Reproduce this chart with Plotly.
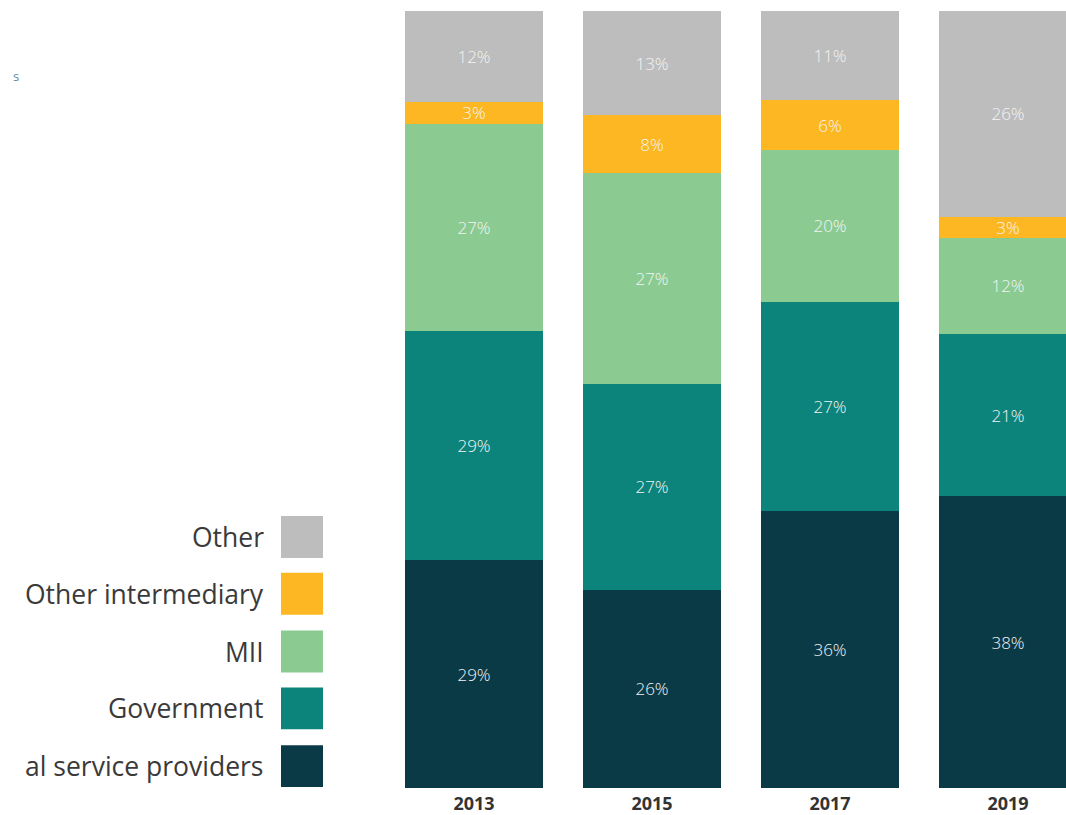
import plotly.graph_objects as go

years = ["2013", "2015", "2017", "2019"]
series_names = ["Financial service providers", "Government", "MII", "Other intermediary", "Other"]
legend_labels = ["al service providers", "Government", "MII", "Other intermediary", "Other"]

# segment shares
fsp = [29.3, 25.5, 35.7, 37.6]
government = [29.5, 26.5, 26.9, 20.9]
mii = [26.7, 27.1, 19.5, 12.4]
other_intermediary = [2.8, 7.5, 6.4, 2.7]
other = [11.7, 13.4, 11.5, 26.5]

# printed labels
fsp_lbl = ["29%", "26%", "36%", "38%"]
government_lbl = ["29%", "27%", "27%", "21%"]
mii_lbl = ["27%", "27%", "20%", "12%"]
other_intermediary_lbl = ["3%", "8%", "6%", "3%"]
other_lbl = ["12%", "13%", "11%", "26%"]

series_values = [fsp, government, mii, other_intermediary, other]
series_labels = [fsp_lbl, government_lbl, mii_lbl, other_intermediary_lbl, other_lbl]
colors = ["#0b3a47", "#0d847b", "#8bcb92", "#fcb722", "#bdbdbd"]

W, H = 1066, 815
L, R, T, B = 385, 1066, 11, 791  # plot area in pixels
pitch = 178.0
x_pos = list(range(len(years)))
span = (R - L) / pitch

fig = go.Figure()
for name, vals, lbls, col in zip(series_names, series_values, series_labels, colors):
    fig.add_trace(go.Bar(
        x=x_pos, y=vals, name=name,
        marker=dict(color=col, line=dict(width=0)),
        width=138 / pitch,
        text=lbls,
        texttemplate="%{text}",
        textposition="inside",
        insidetextanchor="middle",
        textangle=0,
        constraintext="none",
        insidetextfont=dict(family="Open Sans", size=17, color="#f4f4f4", weight=300),
        hoverinfo="skip",
        showlegend=False,
    ))

def px_x(p):
    return (p - L) / (R - L)

def px_y(p):
    return (B - p) / (B - T)

shapes = []
annotations = []
leg_top = [518, 575, 633, 690, 748]
for i, (name, col) in enumerate(zip(legend_labels[::-1], colors[::-1])):
    y0 = leg_top[i]
    y1 = y0 + 42
    shapes.append(dict(type="rect", xref="paper", yref="paper",
                       x0=px_x(281), x1=px_x(323), y0=px_y(y1), y1=px_y(y0),
                       fillcolor=col, line=dict(width=0)))
    annotations.append(dict(xref="paper", yref="paper", x=px_x(266), y=px_y((y0 + y1) / 2),
                            text=name, showarrow=False, xanchor="right", yanchor="middle",
                            font=dict(family="Open Sans", size=26.5, color="#3a3a3a")))

# cropped title fragment at top-left
annotations.append(dict(xref="paper", yref="paper", x=px_x(16), y=px_y(76),
                        text="s", showarrow=False, xanchor="center", yanchor="middle",
                        font=dict(family="Open Sans", size=13, color="#5b8aa0")))

fig.update_layout(
    width=W, height=H,
    barmode="stack",
    barnorm="percent",
    paper_bgcolor="white", plot_bgcolor="white",
    margin=dict(l=L, r=W - R, t=T, b=H - B, pad=0),
    xaxis=dict(range=[-0.5, -0.5 + span], tickvals=x_pos, ticktext=years,
               showgrid=False, zeroline=False, showline=False, ticks="",
               ticklabelstandoff=3,
               tickfont=dict(family="Open Sans", size=18, color="#333333", weight="bold"),
               fixedrange=True),
    yaxis=dict(range=[0, 100], visible=False, fixedrange=True),
    shapes=shapes,
    annotations=annotations,
    showlegend=False,
)

fig.write_html("out.html", config={"displayModeBar": False},
               post_script="document.body.style.margin='0';document.body.style.overflow='hidden';")
